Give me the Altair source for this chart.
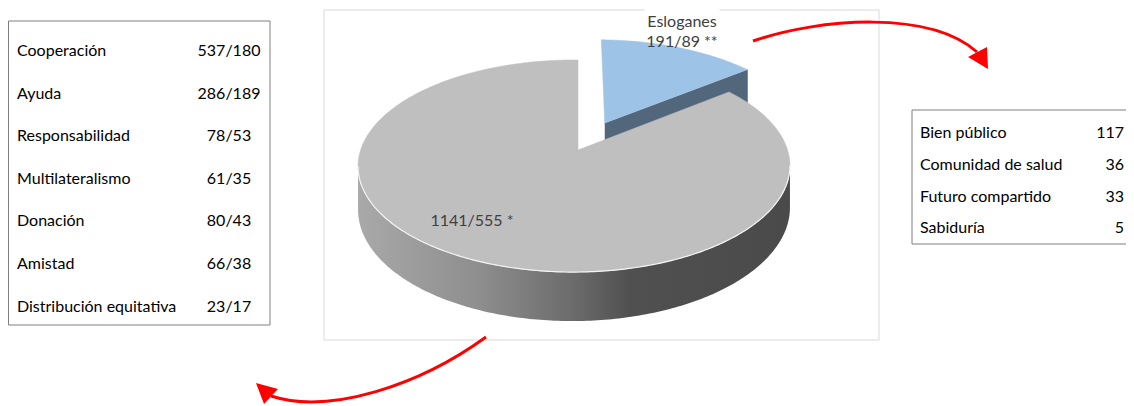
import numpy as np
import pandas as pd
import altair as alt

# ---------------- data ----------------
pie_labels = ["Esloganes", "Resto"]
pie_counts = [191, 1141]
pie_second = [89, 555]
pie_marks = ["**", "*"]

left_terms = ["Cooperación", "Ayuda", "Responsabilidad", "Multilateralismo",
              "Donación", "Amistad", "Distribución equitativa"]
left_a = [537, 286, 78, 61, 80, 66, 23]
left_b = [180, 189, 53, 35, 43, 38, 17]

right_terms = ["Bien público", "Comunidad de salud", "Futuro compartido", "Sabiduría"]
right_vals = [117, 36, 33, 5]

# ---------------- 3D pie projection (style parameters) ----------------
CX, CY = 578.0, 150.0
A, B = 213.4, 103.6
K, J = 0.151, 0.0183
H = 41.6
EXPLODE = 0.30


def proj(u, v):
    den = 1 + K * v + J * u
    return CX + A * u / den, CY - B * v / den, H / den


total = sum(pie_counts)
end = 2 * np.pi * pie_counts[0] / total
rows = []


def add(shape, xs, ys):
    for i, (x, y) in enumerate(zip(xs, ys)):
        rows.append({"shape": shape, "i": i, "x": float(x), "y": float(y)})


# exploded slice (Esloganes)
mid = end / 2
eu, ev = EXPLODE * np.sin(mid), EXPLODE * np.cos(mid)
vx, vy, vd = proj(eu, ev)
th = np.linspace(0, end, 60)
rx, ry, rd = proj(np.sin(th) + eu, np.cos(th) + ev)
add("blue_top", np.r_[vx, rx], np.r_[vy, ry])
ex, ey, ed = proj(np.sin(end) + eu, np.cos(end) + ev)
add("blue_cut", [vx, ex, ex, vx], [vy, ey, ey + ed, vy + vd])

# main slice side (front rim)
dense = np.linspace(0.3 * np.pi, 1.7 * np.pi, 2000)
dx, _, _ = proj(np.sin(dense), np.cos(dense))
t_r, t_l = dense[np.argmax(dx)], dense[np.argmin(dx)]
ts = np.linspace(t_r, t_l, 200)
sx, sy, sd = proj(np.sin(ts), np.cos(ts))
add("side", np.r_[sx, sx[::-1]], np.r_[sy, (sy + sd)[::-1]])
add("rim", sx, sy)

# main slice top
tg = np.linspace(end, 2 * np.pi, 300)
gx, gy, _ = proj(np.sin(tg), np.cos(tg))
add("gray_top", np.r_[CX, gx, CX], np.r_[CY, gy, CY])

poly = pd.DataFrame(rows)

W, HH = 1118, 398
XS = alt.Scale(domain=[8, 8 + W], nice=False, zero=False)
YS = alt.Scale(domain=[8, 8 + HH], reverse=True, nice=False, zero=False)
X = alt.X("x:Q", scale=XS, axis=None)
Y = alt.Y("y:Q", scale=YS, axis=None)

base = alt.Chart(poly)


def shape_layer(name, **mk):
    return base.transform_filter(alt.datum.shape == name).mark_line(**mk).encode(
        x=X, y=Y, order="i:Q")


side_grad = alt.LinearGradient(
    gradient="linear", x1=0, y1=0, x2=1, y2=0,
    stops=[alt.GradientStop(color="#a9a9a9", offset=0),
           alt.GradientStop(color="#8e8e8e", offset=0.28),
           alt.GradientStop(color="#6b6b6b", offset=0.5),
           alt.GradientStop(color="#505050", offset=0.63),
           alt.GradientStop(color="#4a4a4a", offset=1)])

blue_cut = shape_layer("blue_cut", fill="#52677b", stroke="#52677b", strokeWidth=0.5)
blue_top = shape_layer("blue_top", fill="#9dc3e6", stroke="#9dc3e6", strokeWidth=0.5)
side = shape_layer("side", fill=side_grad, strokeWidth=0)
gray_top = shape_layer("gray_top", fill="#bfbfbf", stroke="#bfbfbf", strokeWidth=0.5)
rim = shape_layer("rim", stroke="#f4f4f4", strokeWidth=1.2)

one = alt.Chart(pd.DataFrame({"a": [0]}))
FONT = "Lato"
FS = 16


def rect(x1, y1, x2, y2, stroke, fill="white"):
    return one.mark_rect(fill=fill, stroke=stroke, strokeWidth=1).encode(
        x=alt.value(x1), x2=alt.value(x2), y=alt.value(y1), y2=alt.value(y2))


frame = rect(316, 2, 871, 332, "#d9d9d9")
label_bg = rect(637, -4, 711, 9, "white")

lbl_top = one.mark_text(font=FONT, fontSize=FS, color="#404040", align="center",
                        baseline="middle", lineHeight=19.5).encode(
    x=alt.value(674), y=alt.value(14),
    text=alt.value([pie_labels[0], f"{pie_counts[0]}/{pie_second[0]} {pie_marks[0]}"]))
lbl_main = one.mark_text(font=FONT, fontSize=FS, color="#404040", align="center",
                         baseline="middle").encode(
    x=alt.value(464), y=alt.value(212.5),
    text=alt.value(f"{pie_counts[1]}/{pie_second[1]} {pie_marks[1]}"))

# left table
ldf = pd.DataFrame({"term": left_terms,
                    "val": [f"{a}/{b}" for a, b in zip(left_a, left_b)]})
ldf["y"] = 51 + np.arange(len(ldf)) * 42.6
left_box = rect(0.5, 13, 262, 317, "#7f7f7f")
left_t = alt.Chart(ldf).mark_text(font=FONT, fontSize=FS, color="#000000", align="left",
                                  baseline="middle").encode(
    x=alt.value(9), y=alt.Y("y:Q", scale=YS, axis=None), text="term:N")
left_v = alt.Chart(ldf).mark_text(font=FONT, fontSize=FS, color="#000000", align="center",
                                  baseline="middle").encode(
    x=alt.value(221), y=alt.Y("y:Q", scale=YS, axis=None), text="val:N")

# right table
rdf = pd.DataFrame({"term": right_terms, "val": [str(v) for v in right_vals]})
rdf["y"] = 133 + np.arange(len(rdf)) * 31.8
right_box = rect(904, 102, 1130, 236, "#7f7f7f")
right_t = alt.Chart(rdf).mark_text(font=FONT, fontSize=FS, color="#000000", align="left",
                                   baseline="middle").encode(
    x=alt.value(912), y=alt.Y("y:Q", scale=YS, axis=None), text="term:N")
right_v = alt.Chart(rdf).mark_text(font=FONT, fontSize=FS, color="#000000", align="right",
                                   baseline="middle").encode(
    x=alt.value(1116), y=alt.Y("y:Q", scale=YS, axis=None), text="val:N")


# red curved arrows (custom symbol paths, size 4 => 1 unit = 1 px)
def arrow_curve(path):
    return one.mark_point(shape=path, size=4, filled=False, stroke="#ff0000",
                          strokeWidth=3, opacity=1).encode(x=alt.value(0), y=alt.value(0))


def arrow_head(path):
    return one.mark_point(shape=path, size=4, filled=True, fill="#ff0000",
                          strokeWidth=0, opacity=1).encode(x=alt.value(0), y=alt.value(0))


arrows = [
    arrow_curve("M745,33 C812,10 922,2 969,44"),
    arrow_head("M980,61 L960,49 L979,39 Z"),
    arrow_curve("M478,329 C412,377 322,407 263,388"),
    arrow_head("M248,375 L270,381 L256,396 Z"),
]

chart = alt.layer(
    frame, blue_cut, blue_top, side, gray_top, rim, label_bg, lbl_top, lbl_main,
    left_box, left_t, left_v, right_box, right_t, right_v, *arrows
).properties(
    width=W, height=HH, padding=0,
    autosize=alt.AutoSizeParams(type="none"),
).configure_view(stroke=None)

chart.save("out.html", embed_options={"renderer": "svg", "actions": False})
